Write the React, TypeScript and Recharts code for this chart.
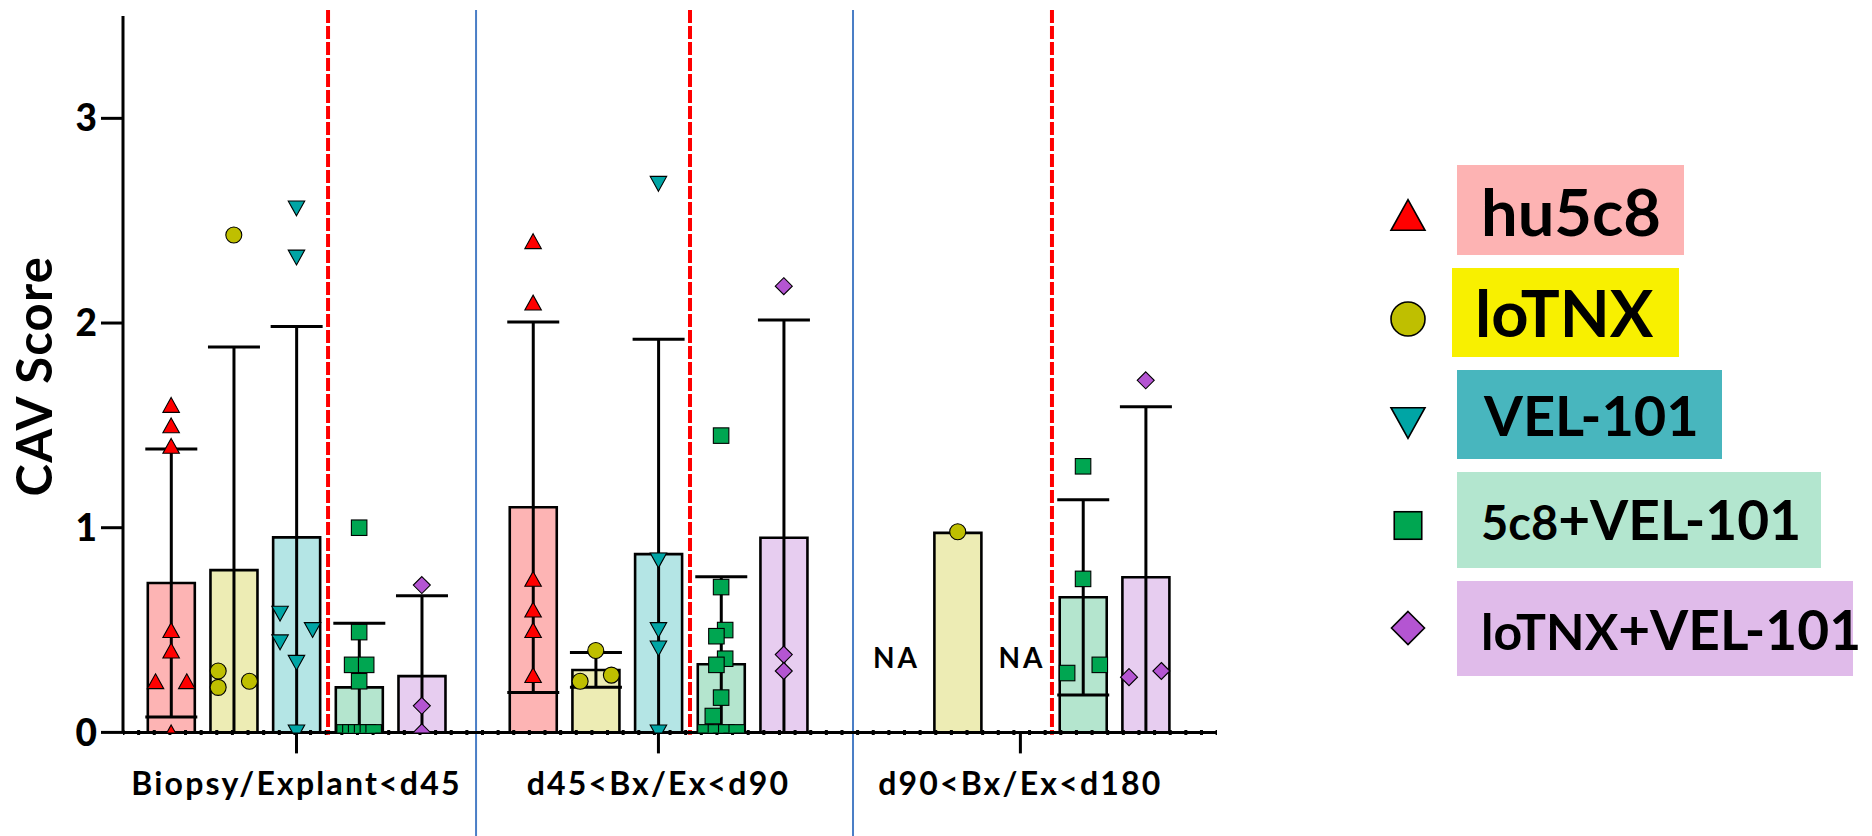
import React from 'react';
import {
  ComposedChart, Bar, Scatter, XAxis, YAxis, ErrorBar, Cell,
  ReferenceLine, ReferenceDot, Legend,
} from 'recharts';

// ---------------- data ----------------
const categories = ['Biopsy/Explant<d45', 'd45<Bx/Ex<d90', 'd90<Bx/Ex<d180'];
const seriesNames = ['hu5c8', 'loTNX', 'VEL-101', '5c8+VEL-101', 'loTNX+VEL-101'];
const yTicks = [0, 1, 2, 3];

// group means (null = NA)
const meanHu5c8 = [0.73, 1.10, null];
const meanLoTNX = [0.793, 0.305, 0.975];
const meanVEL = [0.953, 0.871, null];
const mean5c8VEL = [0.22, 0.333, 0.66];
const meanLoTNXVEL = [0.275, 0.951, 0.758];

// standard deviations (null = no error bar)
const sdHu5c8 = [0.655, 0.905, null];
const sdLoTNX = [1.09, 0.085, null];
const sdVEL = [1.03, 1.05, null];
const sd5c8VEL = [0.313, 0.427, 0.477];
const sdLoTNXVEL = [0.393, 1.064, 0.833];

// individual animal scores per group
const ptsHu5c8 = [[1.60, 1.50, 1.40, 0.50, 0.40, 0.25, 0.25, 0.0], [2.40, 2.10, 0.75, 0.60, 0.50, 0.28], []];
const ptsLoTNX = [[2.43, 0.30, 0.22, 0.25], [0.40, 0.25, 0.28], [0.98]];
const ptsVEL = [[2.56, 2.32, 0.58, 0.50, 0.44, 0.34, 0.0], [2.68, 0.84, 0.50, 0.41, 0.0], []];
const pts5c8VEL = [[1.0, 0.49, 0.33, 0.33, 0.25, 0, 0, 0, 0, 0, 0], [1.45, 0.71, 0.50, 0.47, 0.36, 0.33, 0.17, 0.08, 0, 0, 0, 0], [1.30, 0.75, 0.33, 0.29]];
const ptsLoTNXVEL = [[0.72, 0.13, 0.0], [2.18, 0.38, 0.30], [1.72, 0.30, 0.27]];

// horizontal scatter (jitter) of those points, in marker widths
const jitHu5c8 = [[0, 0, 0, 0, 0, -1, 1, 0], [0, 0, 0, 0, 0, 0], []];
const jitLoTNX = [[0, -1, -1, 1], [0, -1, 1], [0]];
const jitVEL = [[0, 0, -1.05, 1.03, -1.05, 0, 0], [0, 0, 0, 0, 0], []];
const jit5c8VEL = [[0, 0, -0.45, 0.45, 0, -0.93, -0.56, -0.19, 0.19, 0.56, 0.93], [0, 0, 0.26, -0.3, 0.26, -0.3, 0, -0.53, -1, -0.33, 0.33, 1], [0, 0, 1.07, -1.02]];
const jitLoTNXVEL = [[0, 0, 0], [0, 0, 0], [0, 1.0, -1.07]];

// ---------------- styles / layout ----------------
const W = 1872;
const H = 836;
const FONT = "Lato, 'Open Sans', 'DejaVu Sans', sans-serif";
const barFills = ['#FDB4B4', '#EDECB4', '#B4E5E5', '#B4E5CE', '#E7CDF0'];
const markerFills = ['#FF0000', '#BFBF00', '#00A5A5', '#00A651', '#B455D2'];
const markerKinds = ['up', 'circle', 'down', 'square', 'diamond'];
const markerSizes = [16.5, 16, 16.5, 15.5, 17];
const legendFills = ['#FDB3B3', '#F8F000', '#48B6BE', '#B3E6CF', '#E0BBEA'];

const X_DOMAIN: [number, number] = [0, 70];
const GROUP_CENTER = [11.1, 34.26, 57.42];
const BAR_STEP = 4.01;
const pos = (g: number, s: number) => GROUP_CENTER[g] + (s - 2) * BAR_STEP;
const RED_LINES = GROUP_CENTER.map((c) => c + 2.02);
const BLUE_LINES = [22.59, 46.71];
const NA_Y = 0.363;

const means = [meanHu5c8, meanLoTNX, meanVEL, mean5c8VEL, meanLoTNXVEL];
const sds = [sdHu5c8, sdLoTNX, sdVEL, sd5c8VEL, sdLoTNXVEL];
const pts = [ptsHu5c8, ptsLoTNX, ptsVEL, pts5c8VEL, ptsLoTNXVEL];
const jits = [jitHu5c8, jitLoTNX, jitVEL, jit5c8VEL, jitLoTNXVEL];

type BarRow = { x: number; y: number; err: [number, number] | null; s: number };
const barData: BarRow[] = [];
const naSlots: { g: number; s: number }[] = [];
for (let g = 0; g < categories.length; g++) {
  for (let s = 0; s < seriesNames.length; s++) {
    const m = means[s][g];
    const sd = sds[s][g];
    if (m == null) {
      naSlots.push({ g, s });
      continue;
    }
    barData.push({ x: pos(g, s), y: m, err: sd == null ? null : [Math.min(sd, m), sd], s });
  }
}
const scatterData = seriesNames.map((_, s) =>
  pts[s].flatMap((vals, g) => vals.map((v, i) => ({ x: pos(g, s) + jits[s][g][i], y: v })))
);

function Marker({ kind, cx, cy, size, fill, sw }: any) {
  const h = size / 2;
  const common = { fill, stroke: '#000', strokeWidth: sw };
  if (kind === 'circle') return <circle cx={cx} cy={cy} r={h} {...common} />;
  if (kind === 'square') return <rect x={cx - h} y={cy - h} width={size} height={size} {...common} />;
  if (kind === 'diamond')
    return <polygon points={`${cx},${cy - h} ${cx + h},${cy} ${cx},${cy + h} ${cx - h},${cy}`} {...common} />;
  const v = h * 0.9;
  if (kind === 'up')
    return <polygon points={`${cx},${cy - v} ${cx + h},${cy + v} ${cx - h},${cy + v}`} {...common} />;
  return <polygon points={`${cx},${cy + v} ${cx + h},${cy - v} ${cx - h},${cy - v}`} {...common} />;
}

const XTick = (props: any) => {
  const { x, y, index } = props;
  return (
    <text x={x} y={y + 39.5} textAnchor="middle" fontFamily={FONT} fontWeight={700} fontSize={32}
      letterSpacing={2.2} fill="#000">
      {categories[index]}
    </text>
  );
};

const YLabel = (props: any) => {
  const vb = props.viewBox || { x: 23, y: 16, width: 100, height: 716 };
  const cx = vb.x + 29;
  const cy = vb.y + vb.height / 2 + 2;
  return (
    <text x={cx} y={cy} transform={`rotate(-90, ${cx}, ${cy})`} textAnchor="middle" fontFamily={FONT}
      fontWeight={700} fontSize={49} letterSpacing={1.2} fill="#000">
      CAV Score
    </text>
  );
};

const NALabel = (props: any) => {
  const vb = props.viewBox || { x: 0, y: 0, width: 0, height: 0 };
  const cx = vb.x + vb.width / 2;
  const cy = vb.y + vb.height / 2;
  return (
    <text x={cx + 1.5} y={cy + 10} textAnchor="middle" fontFamily={FONT} fontWeight={700} fontSize={28}
      letterSpacing={3} fill="#000">
      NA
    </text>
  );
};

// legend layout (style only)
const LEG_MARK_X = 1408;
const LEG_MARK_Y = [215, 319, 423, 525.5, 628];
const LEG_MARK_SIZE = [34, 34, 34, 27.5, 33];
const LEG_BOX = [
  { x: 1457, y: 165, w: 227, h: 90 },
  { x: 1452, y: 268, w: 227, h: 89 },
  { x: 1457, y: 370, w: 265, h: 89 },
  { x: 1457, y: 472, w: 364, h: 96 },
  { x: 1457, y: 581, w: 396, h: 95 },
];
const LEG_TEXT = [
  { x: 1481, y: 236 },
  { x: 1475, y: 337 },
  { x: 1484, y: 436 },
  { x: 1481, y: 540 },
  { x: 1481, y: 650 },
];

function legendText(i: number) {
  const name = seriesNames[i];
  if (i === 0 || i === 1) return <tspan fontSize={65}>{name}</tspan>;
  if (i === 2) return <tspan fontSize={56}>{name}</tspan>;
  const k = name.indexOf('+');
  return (
    <>
      <tspan fontSize={i === 3 ? 47 : 50}>{name.slice(0, k)}</tspan>
      <tspan fontSize={55}>{name.slice(k)}</tspan>
    </>
  );
}

const LegendContent = () => (
  <svg width={W} height={H} style={{ position: 'absolute', left: 0, top: 0 }}>
    {seriesNames.map((n, i) => (
      <g key={n}>
        <Marker kind={markerKinds[i]} cx={LEG_MARK_X} cy={LEG_MARK_Y[i]} size={LEG_MARK_SIZE[i]}
          fill={markerFills[i]} sw={1.6} />
        <rect x={LEG_BOX[i].x} y={LEG_BOX[i].y} width={LEG_BOX[i].w} height={LEG_BOX[i].h} fill={legendFills[i]} />
        <text x={LEG_TEXT[i].x} y={LEG_TEXT[i].y} fontFamily={FONT} fontWeight={700} fill="#000">
          {legendText(i)}
        </text>
      </g>
    ))}
  </svg>
);

export default function App() {
  return (
    <div style={{ position: 'absolute', left: 0, top: 0, width: W, height: H, background: '#fff' }}>
      <ComposedChart width={W} height={H} data={barData}
        margin={{ top: 16, right: 655, bottom: 43.6, left: 23 }}>
        <XAxis xAxisId={0} dataKey="x" type="number" domain={X_DOMAIN} allowDataOverflow
          ticks={GROUP_CENTER} interval={0} tick={<XTick />} tickSize={21} tickMargin={2} height={60}
          axisLine={{ stroke: '#000', strokeWidth: 3 }} tickLine={{ stroke: '#000', strokeWidth: 3 }} />
        <XAxis xAxisId="pts" dataKey="x" type="number" domain={X_DOMAIN} allowDataOverflow hide />
        <XAxis xAxisId="eb" dataKey="x" type="number" domain={X_DOMAIN} allowDataOverflow hide />
        <YAxis type="number" domain={[0, 3.5]} allowDataOverflow ticks={yTicks} interval={0} width={100}
          tickSize={22} tickMargin={4}
          tick={{ fill: '#000', fontSize: 37, fontWeight: 900, fontFamily: FONT }}
          axisLine={{ stroke: '#000', strokeWidth: 3 }} tickLine={{ stroke: '#000', strokeWidth: 3 }}
          label={YLabel} />

        <Bar xAxisId={0} dataKey="y" barSize={47} stroke="#000" strokeWidth={2.6} isAnimationActive={false}>
          {barData.map((d, i) => (
            <Cell key={i} fill={barFills[d.s]} />
          ))}
        </Bar>

        <ReferenceLine xAxisId={0} y={0} stroke="#000" strokeWidth={5} strokeDasharray="3 12.63"
          strokeDashoffset={1.5} />

        {RED_LINES.map((x, i) => (
          <ReferenceLine key={'r' + i} xAxisId={0} ifOverflow="visible"
            segment={[{ x, y: 3.529 }, { x, y: -0.012 }]}
            stroke="#FF0000" strokeWidth={4} strokeDasharray="13 3" />
        ))}
        {BLUE_LINES.map((x, i) => (
          <ReferenceLine key={'b' + i} xAxisId={0} ifOverflow="visible"
            segment={[{ x, y: 3.529 }, { x, y: -0.506 }]}
            stroke="#4A7EC6" strokeWidth={2} />
        ))}

        {naSlots.map(({ g, s }) => (
          <ReferenceDot key={'na' + g + s} xAxisId={0} x={pos(g, s)} y={NA_Y} r={0} fill="none" stroke="none"
            label={NALabel} />
        ))}

        {seriesNames.map((name, s) => (
          <Scatter key={name} name={name} xAxisId="pts" data={scatterData[s]} dataKey="y"
            isAnimationActive={false}
            shape={(p: any) => (
              <Marker kind={markerKinds[s]} cx={p.cx} cy={p.cy} size={markerSizes[s]} fill={markerFills[s]} sw={1.1} />
            )} />
        ))}

        <Bar xAxisId="eb" dataKey="y" barSize={47} fill="none" stroke="none" isAnimationActive={false}
          legendType="none">
          <ErrorBar dataKey="err" direction="y" width={26} stroke="#000" strokeWidth={3} />
        </Bar>

        <Legend layout="horizontal" verticalAlign="middle" align="center" content={LegendContent}
          wrapperStyle={{ left: 0, top: 0, width: W, height: H, pointerEvents: 'none' }} />
      </ComposedChart>
    </div>
  );
}
